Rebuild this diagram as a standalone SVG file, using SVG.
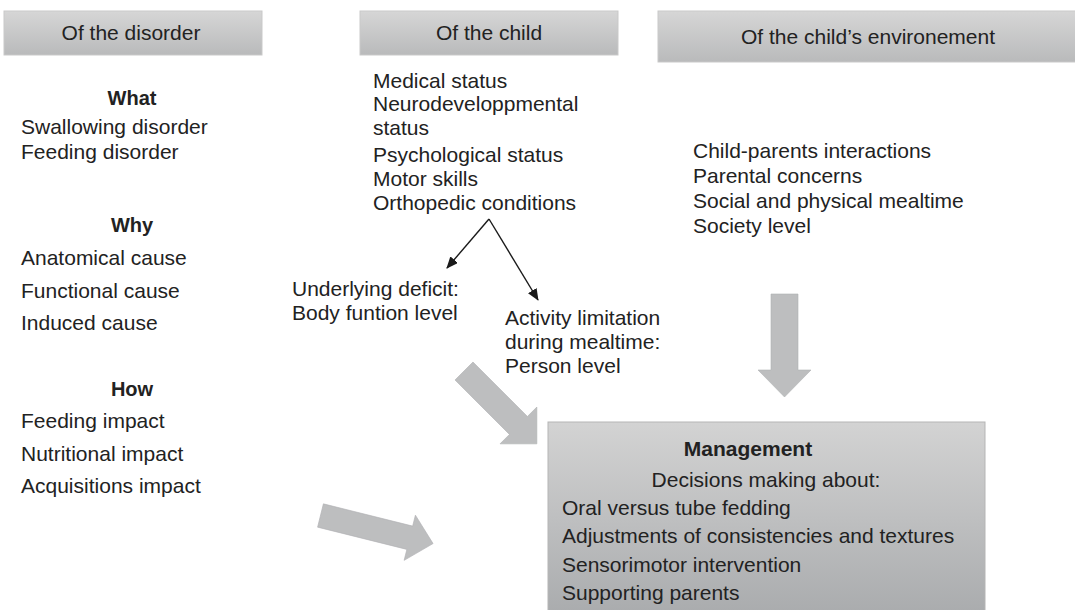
<svg xmlns="http://www.w3.org/2000/svg" width="1075" height="610" viewBox="0 0 1075 610">
  <defs>
    <linearGradient id="hdrGrad" x1="0" y1="0" x2="0" y2="1">
      <stop offset="0" stop-color="#d6d6d6"/>
      <stop offset="1" stop-color="#b9babb"/>
    </linearGradient>
    <linearGradient id="mgmtGrad" x1="0" y1="0" x2="0" y2="1">
      <stop offset="0" stop-color="#d3d3d3"/>
      <stop offset="1" stop-color="#a9abad"/>
    </linearGradient>
    <marker id="tip" viewBox="0 0 12 10" refX="11" refY="5" markerWidth="12" markerHeight="10" markerUnits="userSpaceOnUse" orient="auto">
      <path d="M0,0 L12,5 L0,10 Z" fill="#1a1a1a"/>
    </marker>
  </defs>
  <style>
    text { font-family: "Liberation Sans", Arial, sans-serif; font-size: 21px; fill: #222; }
    .hdr { fill: url(#hdrGrad); stroke: #c9c9c9; stroke-width: 1; }
    .hdrtxt { text-anchor: middle; }
    .bold { font-weight: bold; text-anchor: middle; font-size: 20px; }
    .mid { text-anchor: middle; }
    .fat { fill: #bdbebf; stroke: #b0b1b3; stroke-width: 0.6; }
    .thin { stroke: #1a1a1a; stroke-width: 1.4; fill: none; marker-end: url(#tip); }
  </style>

  <rect width="1075" height="610" fill="#ffffff"/>

  <!-- column headers -->
  <g id="hdr-disorder">
    <rect class="hdr" x="4" y="11" width="258" height="44"/>
    <text class="hdrtxt" x="131" y="40">Of the disorder</text>
  </g>
  <g id="hdr-child">
    <rect class="hdr" x="360" y="11" width="258" height="44"/>
    <text class="hdrtxt" x="489" y="40">Of the child</text>
  </g>
  <g id="hdr-env">
    <rect class="hdr" x="658" y="11" width="422" height="51"/>
    <text class="hdrtxt" x="868" y="44">Of the child’s environement</text>
  </g>

  <!-- disorder column -->
  <g id="what">
    <text class="bold" x="132" y="105">What</text>
    <text x="21" y="134">Swallowing disorder</text>
    <text x="21" y="159">Feeding disorder</text>
  </g>
  <g id="why">
    <text class="bold" x="132" y="232">Why</text>
    <text x="21" y="265">Anatomical cause</text>
    <text x="21" y="298">Functional cause</text>
    <text x="21" y="330">Induced cause</text>
  </g>
  <g id="how">
    <text class="bold" x="132" y="396">How</text>
    <text x="21" y="428">Feeding impact</text>
    <text x="21" y="461">Nutritional impact</text>
    <text x="21" y="493">Acquisitions impact</text>
  </g>

  <!-- child column -->
  <g id="child-status">
    <text x="373" y="88">Medical status</text>
    <text x="373" y="111">Neurodeveloppmental</text>
    <text x="373" y="135">status</text>
    <text x="373" y="162">Psychological status</text>
    <text x="373" y="186">Motor skills</text>
    <text x="373" y="210">Orthopedic conditions</text>
  </g>
  <g id="deficit">
    <text x="292" y="296">Underlying deficit:</text>
    <text x="292" y="320">Body funtion level</text>
  </g>
  <g id="activity">
    <text x="505" y="325">Activity limitation</text>
    <text x="505" y="349">during mealtime:</text>
    <text x="505" y="373">Person level</text>
  </g>

  <!-- environment column -->
  <g id="environment">
    <text x="693" y="158">Child-parents interactions</text>
    <text x="693" y="183">Parental concerns</text>
    <text x="693" y="208">Social and physical mealtime</text>
    <text x="693" y="233">Society level</text>
  </g>

  <!-- management -->
  <g id="management">
    <rect x="548" y="422" width="437" height="195" fill="url(#mgmtGrad)" stroke="#b5b5b5" stroke-width="1"/>
    <text class="bold" x="748" y="456" style="font-size:21px">Management</text>
    <text class="mid" x="766" y="487">Decisions making about:</text>
    <text x="562" y="515">Oral versus tube fedding</text>
    <text x="562" y="543">Adjustments of consistencies and textures</text>
    <text x="562" y="572">Sensorimotor intervention</text>
    <text x="562" y="600">Supporting parents</text>
  </g>

  <!-- connectors -->
  <g id="connectors">
    <path class="thin" d="M489,219 L447,268"/>
    <path class="thin" d="M489,219 L538,300"/>
    <!-- block arrows, drawn pointing along +x then placed -->
    <path class="fat" transform="translate(784.5,294) rotate(90)" d="M0,-13.5 L76,-13.5 L76,-26.5 L103,0 L76,26.5 L76,13.5 L0,13.5 Z"/>
    <path class="fat" transform="translate(464,371) rotate(45)" d="M0,-12.7 L77,-12.7 L77,-26 L103,0 L77,26 L77,12.7 L0,12.7 Z"/>
    <path class="fat" transform="translate(320.5,515.5) rotate(14)" d="M0,-12 L92,-12 L92,-23.3 L116,0 L92,23.3 L92,12 L0,12 Z"/>
  </g>
</svg>
